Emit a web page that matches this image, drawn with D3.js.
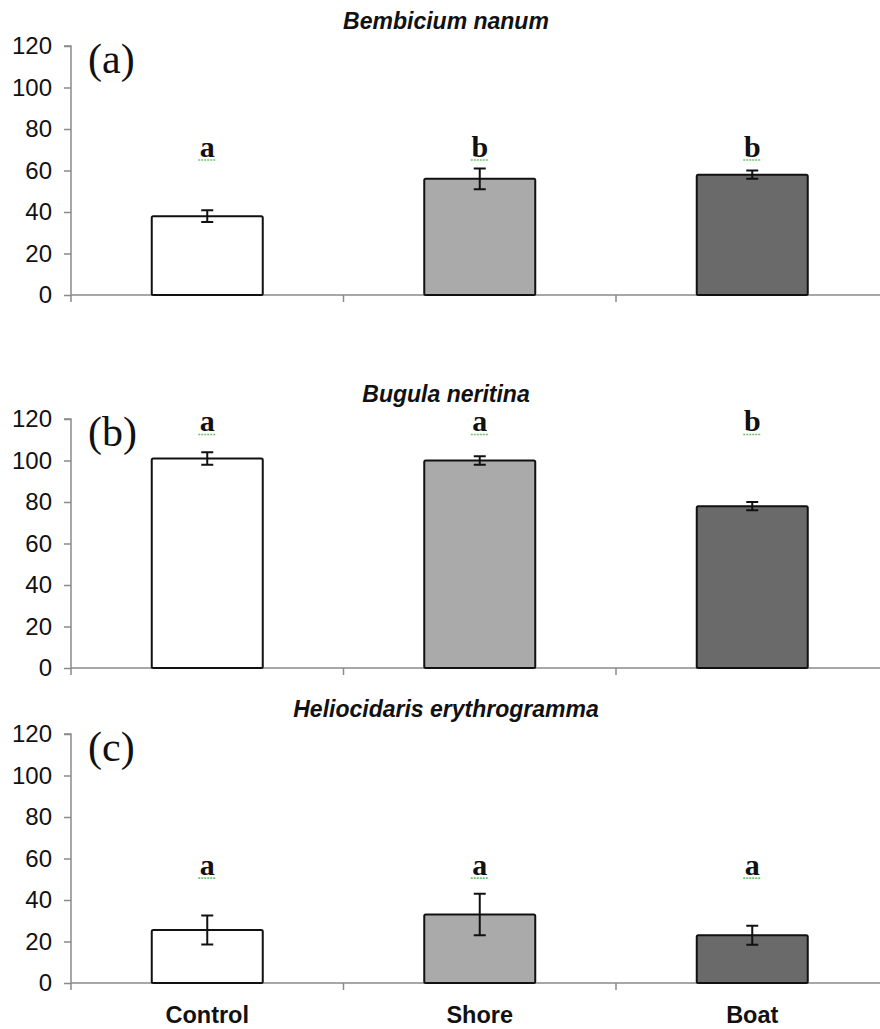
<!DOCTYPE html>
<html>
<head>
<meta charset="utf-8">
<script src="https://cdn.jsdelivr.net/npm/d3@7"></script>
<style>
  body { margin: 0; background: #fff; }
  svg { display: block; }
</style>
</head>
<body>
<svg id="chart" width="880" height="1029"></svg>
<script>
// data
const categories = ["Control", "Shore", "Boat"];
const titles = ["Bembicium nanum", "Bugula neritina", "Heliocidaris erythrogramma"];
const panelLabels = ["(a)", "(b)", "(c)"];
const means = [
    [38, 56, 58],
    [101, 100, 78],
    [25.5, 33, 23]
];
const errors = [
    [2.8, 5, 2],
    [3, 2, 2],
    [7, 10, 4.6]
];
const letters = [
    ["a", "b", "b"],
    ["a", "a", "b"],
    ["a", "a", "a"]
];
const letterLevel = [66.5, 114, 52];
const yTicks = [0, 20, 40, 60, 80, 100, 120];
const fills = ["#ffffff", "#aaaaaa", "#6a6a6a"];

const svg = d3.select("#chart");
const axisColor = "#8a8a8a";
const left = 71;
const panelTops = [46, 419, 734];
const panelHeight = 249;

const x = d3.scaleBand()
    .domain(categories)
    .range([left, left + 3 * 272.5])
    .paddingInner(0)
    .paddingOuter(0);
const barWidth = 111;

panelTops.forEach(function(top, p) {
    const y = d3.scaleLinear().domain([0, 120]).range([top + panelHeight, top]);
    const g = svg.append("g");

    // title
    g.append("text")
        .attr("x", 446)
        .attr("y", top - 17)
        .attr("text-anchor", "middle")
        .style("font-family", "Liberation Sans, Arial, sans-serif")
        .style("font-weight", "bold")
        .style("font-style", "italic")
        .style("font-size", "23px")
        .attr("fill", "#111")
        .text(titles[p]);

    // y axis
    const yAxis = g.append("g")
        .attr("transform", `translate(${left},0)`)
        .call(d3.axisLeft(y).tickValues(yTicks).tickSize(7).tickPadding(12));
    yAxis.select(".domain").attr("stroke", axisColor).attr("stroke-width", 1.5)
        .attr("d", `M-7,${y(120)}H0V${y(0) + 7}`);
    yAxis.selectAll(".tick line").attr("stroke", axisColor).attr("stroke-width", 1.5);
    yAxis.selectAll(".tick text")
        .style("font-family", "Liberation Sans, Arial, sans-serif")
        .style("font-size", "24px")
        .attr("fill", "#111");

    // x axis
    g.append("line")
        .attr("x1", left).attr("x2", 880)
        .attr("y1", y(0)).attr("y2", y(0))
        .attr("stroke", axisColor).attr("stroke-width", 1.5);
    categories.slice(1).forEach(function(c) {
        g.append("line")
            .attr("x1", x(c)).attr("x2", x(c))
            .attr("y1", y(0)).attr("y2", y(0) + 7)
            .attr("stroke", axisColor).attr("stroke-width", 1.5);
    });

    // bars
    categories.forEach(function(c, i) {
        const cx = x(c) + x.bandwidth() / 2;
        g.append("rect")
            .attr("x", cx - barWidth / 2)
            .attr("y", y(means[p][i]))
            .attr("width", barWidth)
            .attr("height", y(0) - y(means[p][i]))
            .attr("rx", 1.5)
            .attr("fill", fills[i])
            .attr("stroke", "#111")
            .attr("stroke-width", 2);

        const hi = y(means[p][i] + errors[p][i]);
        const lo = y(means[p][i] - errors[p][i]);
        g.append("path")
            .attr("d", `M${cx},${hi}V${lo}M${cx - 6},${hi}H${cx + 6}M${cx - 6},${lo}H${cx + 6}`)
            .attr("stroke", "#111")
            .attr("stroke-width", 2)
            .attr("fill", "none");

        // significance letter with green squiggle under it
        const ly = y(letterLevel[p]);
        g.append("text")
            .attr("x", cx)
            .attr("y", ly)
            .attr("text-anchor", "middle")
            .style("font-family", "Liberation Serif, Times New Roman, serif")
            .style("font-weight", "bold")
            .style("font-size", "30px")
            .attr("fill", "#111")
            .text(letters[p][i]);
        g.append("line")
            .attr("x1", cx - 9).attr("x2", cx + 9)
            .attr("y1", ly + 3).attr("y2", ly + 3)
            .attr("stroke", "#6cc46c")
            .attr("stroke-width", 1.6)
            .attr("stroke-dasharray", "2,1");
    });

    // panel label
    g.append("text")
        .attr("x", 88)
        .attr("y", top + 27)
        .style("font-family", "Liberation Serif, Times New Roman, serif")
        .style("font-size", "42px")
        .attr("fill", "#111")
        .text(panelLabels[p]);

    // category labels under the last panel
    if (p === panelTops.length - 1) {
        categories.forEach(function(c) {
            g.append("text")
                .attr("x", x(c) + x.bandwidth() / 2)
                .attr("y", y(0) + 40)
                .attr("text-anchor", "middle")
                .style("font-family", "Liberation Sans, Arial, sans-serif")
                .style("font-weight", "bold")
                .style("font-size", "23.5px")
                .attr("fill", "#111")
                .text(c);
        });
    }
});
</script>
</body>
</html>
